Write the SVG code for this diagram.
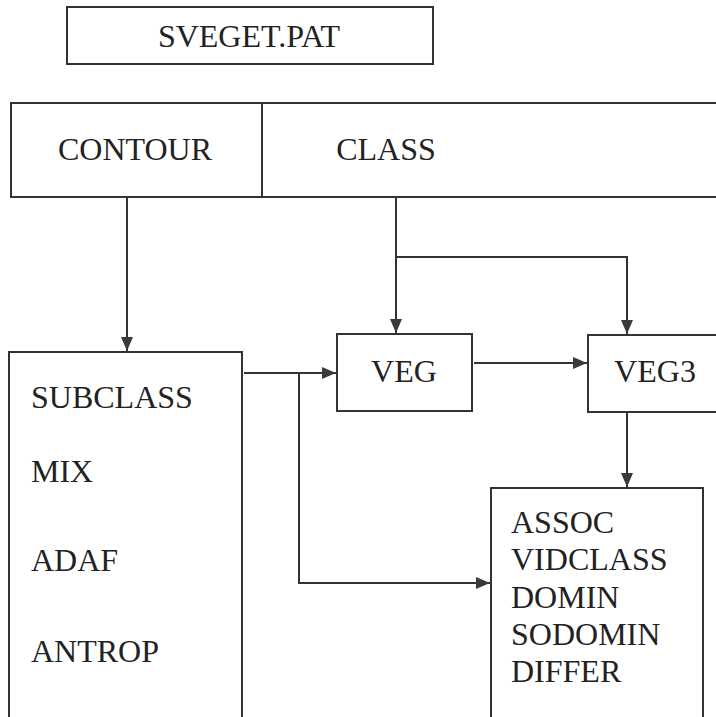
<svg xmlns="http://www.w3.org/2000/svg" width="716" height="717" viewBox="0 0 716 717">
<style>
.box{fill:#fff;stroke:#333;stroke-width:2}
.t{font-family:"Liberation Serif","Times New Roman",serif;font-size:32px;fill:#222}
.c{text-anchor:middle}
.ln{fill:none;stroke:#333;stroke-width:2}
</style>
<defs>
<marker id="ah" markerWidth="14" markerHeight="12" refX="14" refY="6" orient="auto" markerUnits="userSpaceOnUse">
<path d="M0,0 L14,6 L0,12 Z" fill="#3a3a3a"/>
</marker>
</defs>
<rect width="716" height="717" fill="#fff"/>
<g id="sveget">
<rect class="box" x="67" y="7" width="366" height="57"/>
<text class="t c" x="249" y="47">SVEGET.PAT</text>
</g>
<g id="contour-class">
<rect class="box" x="11" y="103" width="720" height="94"/>
<line class="ln" x1="262" y1="103" x2="262" y2="197"/>
<text class="t c" x="135" y="160">CONTOUR</text>
<text class="t c" x="386" y="160">CLASS</text>
</g>
<g id="left">
<rect class="box" x="9" y="352" width="233" height="370"/>
<text class="t" x="31" y="408">SUBCLASS</text>
<text class="t" x="31" y="482">MIX</text>
<text class="t" x="31" y="571">ADAF</text>
<text class="t" x="31" y="662">ANTROP</text>
</g>
<g id="veg">
<rect class="box" x="337" y="334" width="135" height="77"/>
<text class="t c" x="404" y="382">VEG</text>
</g>
<g id="veg3">
<rect class="box" x="588" y="335" width="140" height="77"/>
<text class="t c" x="655" y="382">VEG3</text>
</g>
<g id="output">
<rect class="box" x="491" y="488" width="212" height="235"/>
<text class="t" x="511" y="533">ASSOC</text>
<text class="t" x="511" y="570">VIDCLASS</text>
<text class="t" x="511" y="608">DOMIN</text>
<text class="t" x="511" y="645">SODOMIN</text>
<text class="t" x="511" y="682">DIFFER</text>
</g>
<g id="connectors">
<path class="ln" d="M127,197 V351" marker-end="url(#ah)"/>
<path class="ln" d="M396,197 V333" marker-end="url(#ah)"/>
<path class="ln" d="M396,257 H627 V334" marker-end="url(#ah)"/>
<path class="ln" d="M244,373 H336" marker-end="url(#ah)"/>
<path class="ln" d="M299,373 V583 H490" marker-end="url(#ah)"/>
<path class="ln" d="M474,363 H587" marker-end="url(#ah)"/>
<path class="ln" d="M627,412 V487" marker-end="url(#ah)"/>
</g>
</svg>
